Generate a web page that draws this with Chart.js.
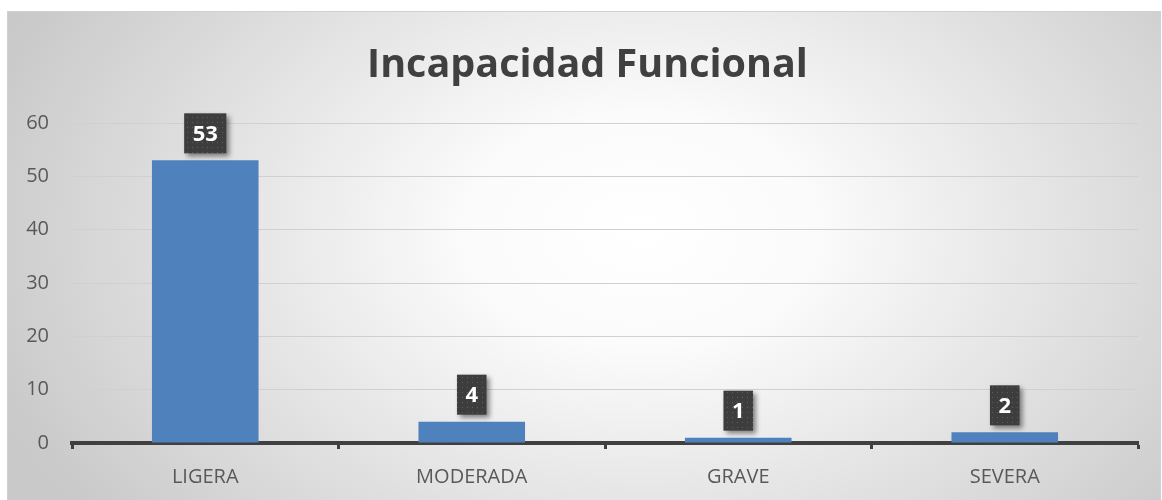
<!DOCTYPE html>
<html>
<head>
<meta charset="utf-8">
<script src="https://cdn.jsdelivr.net/npm/chart.js@4/dist/chart.umd.min.js"></script>
<style>
   html, body { margin: 0; padding: 0; background: #fff; }
   #wrap { width: 1162px; height: 500px; }
</style>
</head>
<body>
<div id="wrap"><canvas id="chart" width="1162" height="500"></canvas></div>
<script>
// Chart data
const categories = ["LIGERA", "MODERADA", "GRAVE", "SEVERA"];
const values     = [53, 4, 1, 2];
const yTicks     = [0, 10, 20, 30, 40, 50, 60];
const chartTitle = "Incapacidad Funcional";

const barColor   = "#4f81bd";
const textColor  = "#595959";
const darkColor  = "#404040";

// Small dotted texture used by the value boxes
const makeDots = () => {
   const c = document.createElement("canvas");
   c.width = 5; c.height = 5;
   const g = c.getContext("2d");
   g.fillStyle = "#3d3d3d";
   g.fillRect(0, 0, 5, 5);
   g.fillStyle = "#5e5e5e";
   g.fillRect(2, 2, 1, 1);
   return c;
};

// Chart background: framed box with a soft radial gradient, plus the title
const backgroundPlugin = {
   id: "panelBg",
   beforeDraw(chart) {
      const { ctx, width, height } = chart;
      ctx.save();
      ctx.fillStyle = "#ffffff";
      ctx.fillRect(0, 0, width, height);
      const x0 = 7, y0 = 11, w = width - 9, h = height - 11;
      const cx = x0 + w * 0.55, cy = y0 + h * 0.45;
      ctx.beginPath();
      ctx.rect(x0, y0, w, h);
      ctx.clip();
      ctx.translate(cx, cy);
      ctx.scale(1, h / w * 1.6);
      const r = w * 0.6;
      const grad = ctx.createRadialGradient(0, 0, 0, 0, 0, r);
      grad.addColorStop(0, "#ffffff");
      grad.addColorStop(0.25, "#fbfbfb");
      grad.addColorStop(1, "#c9c9c9");
      ctx.fillStyle = grad;
      ctx.fillRect(-r * 2, -r * 2, r * 4, r * 4);
      ctx.restore();
      ctx.save();
      ctx.strokeStyle = "#d0d0d0";
      ctx.lineWidth = 1;
      ctx.strokeRect(x0 + 0.5, y0 + 0.5, w, h + 2);
      // title, centred on the whole panel
      ctx.fillStyle = darkColor;
      ctx.font = "bold 39.5px 'Open Sans'";
      ctx.textAlign = "center";
      ctx.textBaseline = "alphabetic";
      ctx.fillText(chartTitle, x0 + w / 2 + 4, 77);
      ctx.restore();
   }
};

// Value boxes above each bar
const valueBoxPlugin = {
   id: "valueBoxes",
   afterDatasetsDraw(chart) {
      const { ctx } = chart;
      const meta = chart.getDatasetMeta(0);
      const pattern = ctx.createPattern(makeDots(), "repeat");
      ctx.save();
      ctx.font = "bold 22px 'Open Sans'";
      ctx.textAlign = "center";
      ctx.textBaseline = "middle";
      meta.data.forEach((bar, i) => {
         const label = String(values[i]);
         const bw = ctx.measureText(label).width + 17;
         const bh = 40;
         const bx = bar.x - bw / 2;
         const by = bar.y - 7 - bh;
         ctx.save();
         ctx.shadowColor = "rgba(0,0,0,.45)";
         ctx.shadowBlur = 5;
         ctx.shadowOffsetX = 3;
         ctx.shadowOffsetY = 3;
         ctx.fillStyle = pattern;
         ctx.fillRect(bx, by, bw, bh);
         ctx.restore();
         ctx.fillStyle = "#ffffff";
         ctx.fillText(label, bar.x, by + bh / 2 + 1);
      });
      ctx.restore();
   }
};

new Chart(document.getElementById("chart"), {
   type: "bar",
   data: {
      labels: categories,
      datasets: [{
         data: values,
         backgroundColor: barColor,
         borderWidth: 0,
         barPercentage: 0.4,
         categoryPercentage: 1
      }]
   },
   options: {
      responsive: false,
      animation: false,
      events: [],
      layout: { padding: { left: 0, right: 24, top: 123, bottom: 0 } },
      plugins: {
         legend: { display: false },
         tooltip: { enabled: false },
         title: { display: false }
      },
      scales: {
         x: {
            grid: {
               offset: true,
               drawOnChartArea: false,
               drawTicks: true,
               tickLength: 6,
               tickWidth: 3,
               color: darkColor
            },
            border: { display: true, color: darkColor, width: 4 },
            ticks: {
               color: textColor,
               font: { family: "'Open Sans'", size: 20 },
               padding: 16,
               maxRotation: 0
            },
            afterFit: s => { s.height = 57; }
         },
         y: {
            min: 0,
            max: 60,
            afterBuildTicks: s => { s.ticks = yTicks.map(v => ({ value: v })); },
            grid: { color: "#d0d0d0", lineWidth: 1, drawTicks: false },
            border: { display: false },
            ticks: {
               color: textColor,
               font: { family: "'Open Sans'", size: 20 },
               padding: 23
            },
            afterFit: s => { s.width = 72; }
         }
      }
   },
   plugins: [backgroundPlugin, valueBoxPlugin]
});
</script>
</body>
</html>
